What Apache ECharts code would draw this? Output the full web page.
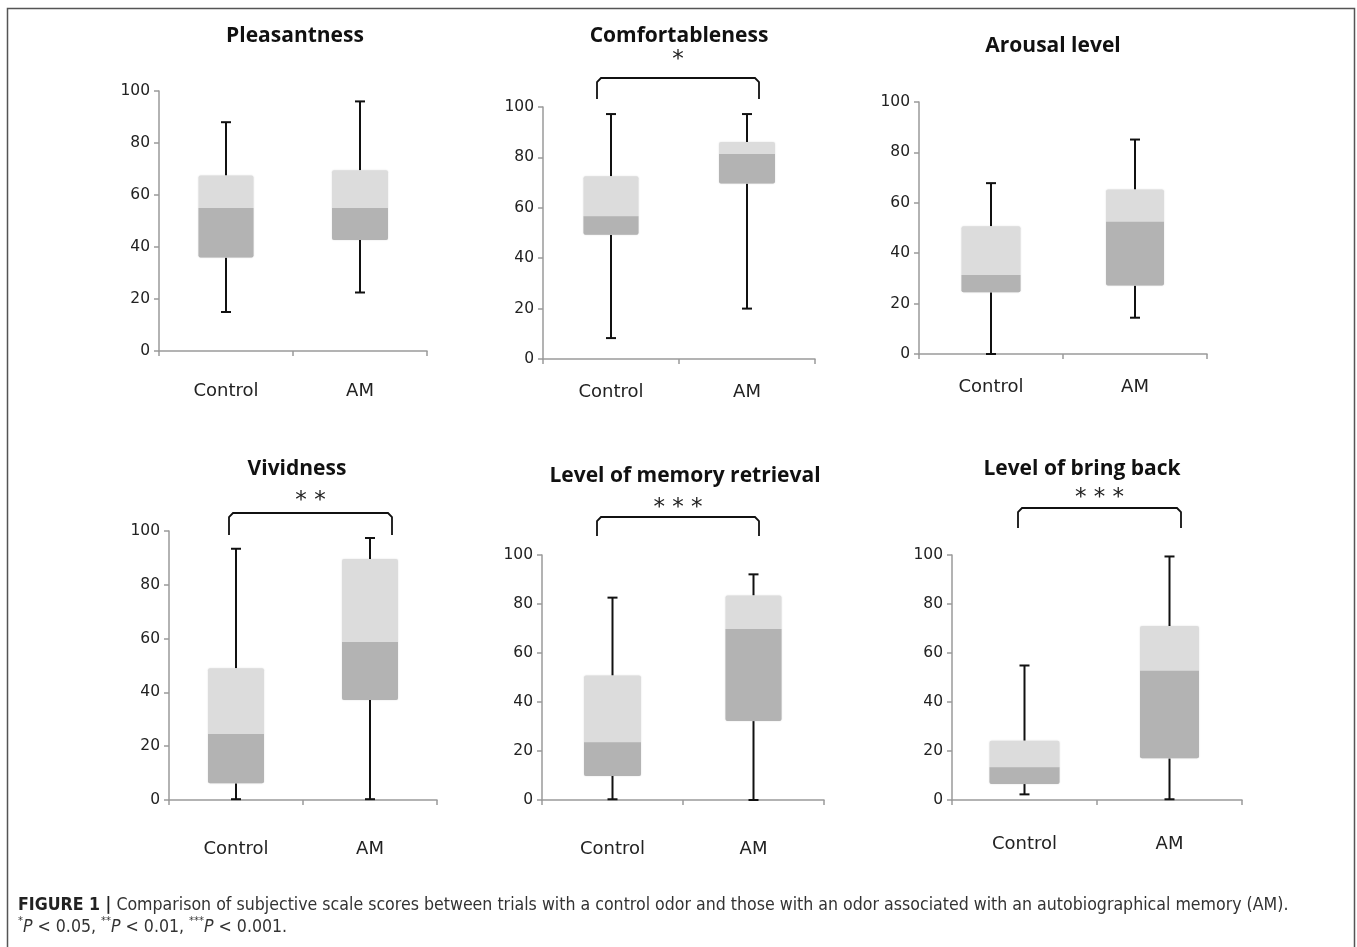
<!DOCTYPE html>
<html>
<head>
<meta charset="utf-8">
<script src="https://cdn.jsdelivr.net/npm/echarts@6/dist/echarts.min.js"></script>
<style>
html,body{margin:0;padding:0;background:#fff;}
#c{width:1357px;height:947px;}
</style>
</head>
<body>
<div id="c"></div>
<script>
// ---- data ----
const categories = ['Control', 'AM'];
const panelTitles = ['Pleasantness', 'Comfortableness', 'Arousal level', 'Vividness', 'Level of memory retrieval', 'Level of bring back'];
const sigLabels = ['', '*', '', '**', '***', '***'];
const yTicks = [0, 20, 40, 60, 80, 100];
// [min, Q1, median, Q3, max] for Control, AM
const pleasantness = [[15, 36, 55, 67.5, 88], [22.5, 42.7, 55, 69.5, 96]];
const comfortableness = [[8.3, 49.3, 56.6, 72.5, 97.2], [20, 69.6, 81.3, 86.1, 97.2]];
const arousal = [[0, 24.5, 31.3, 50.7, 67.8], [14.4, 27.2, 52.5, 65.3, 85.1]];
const vividness = [[0.3, 6.2, 24.5, 49, 93.4], [0.3, 37.2, 58.7, 89.6, 97.4]];
const memoryRetrieval = [[0.3, 9.8, 23.6, 50.8, 82.6], [0, 32.2, 69.8, 83.5, 92.1]];
const bringBack = [[2.3, 6.5, 13.4, 24.2, 54.9], [0.3, 17, 52.8, 71, 99.4]];
const panelData = [pleasantness, comfortableness, arousal, vividness, memoryRetrieval, bringBack];

// ---- layout (pixels) ----
const grids = [
  {left: 159, right: 427, top: 91, bottom: 351, titleX: 290, titleY: 21, labelMargin: 31},
  {left: 543, right: 815, top: 107, bottom: 359, titleX: 674, titleY: 21, labelMargin: 24},
  {left: 919, right: 1207, top: 102, bottom: 354, titleX: 1048, titleY: 31, labelMargin: 24},
  {left: 169, right: 437, top: 531, bottom: 800, titleX: 292, titleY: 454, labelMargin: 40},
  {left: 542, right: 824, top: 555, bottom: 800, titleX: 680, titleY: 461, labelMargin: 40},
  {left: 952, right: 1242, top: 555, bottom: 800, titleX: 1077, titleY: 454, labelMargin: 35}
];
const boxWidths = [[55, 56], [55, 56], [59, 58], [56, 56], [57, 56], [70, 59]];
const brackets = [
  null,
  {x1: 597, x2: 759, top: 78, end: 99, starY: 60},
  null,
  {x1: 229, x2: 392, top: 513, end: 535, starY: 501},
  {x1: 597, x2: 759, top: 517, end: 536, starY: 508},
  {x1: 1018, x2: 1181, top: 508, end: 528, starY: 498}
];

const chart = echarts.init(document.getElementById('c'), null, {renderer: 'canvas'});

const LIGHT = '#dcdcdc', DARK = '#b3b3b3';

function makeRenderer(panel) {
  return function (params, api) {
    const xi = api.value(0);
    const vals = [api.value(1), api.value(2), api.value(3), api.value(4), api.value(5)];
    const pts = vals.map(v => api.coord([xi, v]));
    const cx = pts[0][0];
    const yMin = pts[0][1], yQ1 = pts[1][1], yMed = pts[2][1], yQ3 = pts[3][1], yMax = pts[4][1];
    const bw = boxWidths[panel][xi];
    const capW = 10;
    const lineStyle = {stroke: '#111', lineWidth: 2};
    return {
      type: 'group',
      children: [
        {type: 'line', shape: {x1: cx, y1: yMin, x2: cx, y2: yQ1}, style: lineStyle},
        {type: 'line', shape: {x1: cx, y1: yQ3, x2: cx, y2: yMax}, style: lineStyle},
        {type: 'line', shape: {x1: cx - capW / 2, y1: yMax, x2: cx + capW / 2, y2: yMax}, style: lineStyle},
        {type: 'line', shape: {x1: cx - capW / 2, y1: yMin, x2: cx + capW / 2, y2: yMin}, style: lineStyle},
        {type: 'rect', shape: {x: cx - bw / 2, y: yQ3, width: bw, height: yQ1 - yQ3, r: 2},
          style: {fill: LIGHT, shadowBlur: 2, shadowColor: 'rgba(0,0,0,0.12)'}},
        {type: 'rect', shape: {x: cx - bw / 2, y: yMed, width: bw, height: yQ1 - yMed, r: [0, 0, 2, 2]},
          style: {fill: DARK}}
      ]
    };
  };
}

const AX = '#9a9a9a';
const option = {
  backgroundColor: '#fff',
  animation: false,
  title: panelTitles.map((t, i) => ({
    text: t, left: grids[i].titleX, top: grids[i].titleY, textAlign: 'center',
    textStyle: {fontFamily: 'Open Sans', fontWeight: 'bold', fontSize: 21, color: '#111'}
  })),
  grid: grids.map(g => ({left: g.left, top: g.top, width: g.right - g.left, height: g.bottom - g.top, containLabel: false})),
  xAxis: grids.map((g, i) => ({
    type: 'category', gridIndex: i, data: categories, boundaryGap: true,
    axisLine: {show: true, lineStyle: {color: AX, width: 1.5}},
    axisTick: {show: true, length: 5, lineStyle: {color: AX, width: 1.5}},
    axisLabel: {margin: g.labelMargin, fontFamily: 'DejaVu Sans', fontSize: 18, color: '#222'},
    splitLine: {show: false}
  })),
  yAxis: grids.map((g, i) => ({
    type: 'value', gridIndex: i, min: yTicks[0], max: yTicks[yTicks.length - 1], interval: 20,
    axisLine: {show: true, lineStyle: {color: AX, width: 1.5}},
    axisTick: {show: true, length: 5, lineStyle: {color: AX, width: 1.5}},
    axisLabel: {margin: 9, fontFamily: 'DejaVu Sans', fontSize: 15.5, color: '#222'},
    splitLine: {show: false}
  })),
  series: panelData.map((pd, i) => ({
    type: 'custom', xAxisIndex: i, yAxisIndex: i,
    renderItem: makeRenderer(i),
    encode: {x: 0, y: [1, 2, 3, 4, 5]},
    data: pd.map((v, k) => [k].concat(v))
  })),
  graphic: []
};

const graphics = [];
// frame
graphics.push({type: 'rect', shape: {x: 7.5, y: 8.5, width: 1347, height: 945}, style: {fill: null, stroke: '#555', lineWidth: 1.5}, silent: true});
// brackets & significance stars
brackets.forEach((b, i) => {
  if (!b) return;
  graphics.push({type: 'polyline', shape: {points: [[b.x1, b.end], [b.x1, b.top + 4], [b.x1 + 4, b.top], [b.x2 - 4, b.top], [b.x2, b.top + 4], [b.x2, b.end]]},
    style: {fill: null, stroke: '#111', lineWidth: 1.8}, silent: true});
  graphics.push({type: 'text', x: (b.x1 + b.x2) / 2, y: b.starY, style: {text: sigLabels[i].split('').join(' '), fontFamily: 'DejaVu Sans', fontSize: 23, fill: '#222', align: 'center', verticalAlign: 'middle'}, silent: true});
});
// caption
const CF = 'DejaVu Sans Condensed, Liberation Sans Narrow, sans-serif';
graphics.push({type: 'text', x: 18, y: 894, style: {
  text: '{b|FIGURE 1 |} Comparison of subjective scale scores between trials with a control odor and those with an odor associated with an autobiographical memory (AM).\n{s|*}{i|P} < 0.05, {s|**}{i|P} < 0.01, {s|***}{i|P} < 0.001.',
  fontFamily: CF, fontSize: 17.6, fill: '#333', lineHeight: 22,
  rich: {
    b: {fontFamily: CF, fontWeight: 'bold', fontSize: 17.6, fill: '#222'},
    i: {fontFamily: CF, fontStyle: 'italic', fontSize: 17.6, fill: '#333'},
    s: {fontFamily: CF, fontSize: 11, fill: '#333', verticalAlign: 'top', lineHeight: 22}
  }
}, silent: true});
option.graphic = graphics;

chart.setOption(option);
</script>
</body>
</html>
